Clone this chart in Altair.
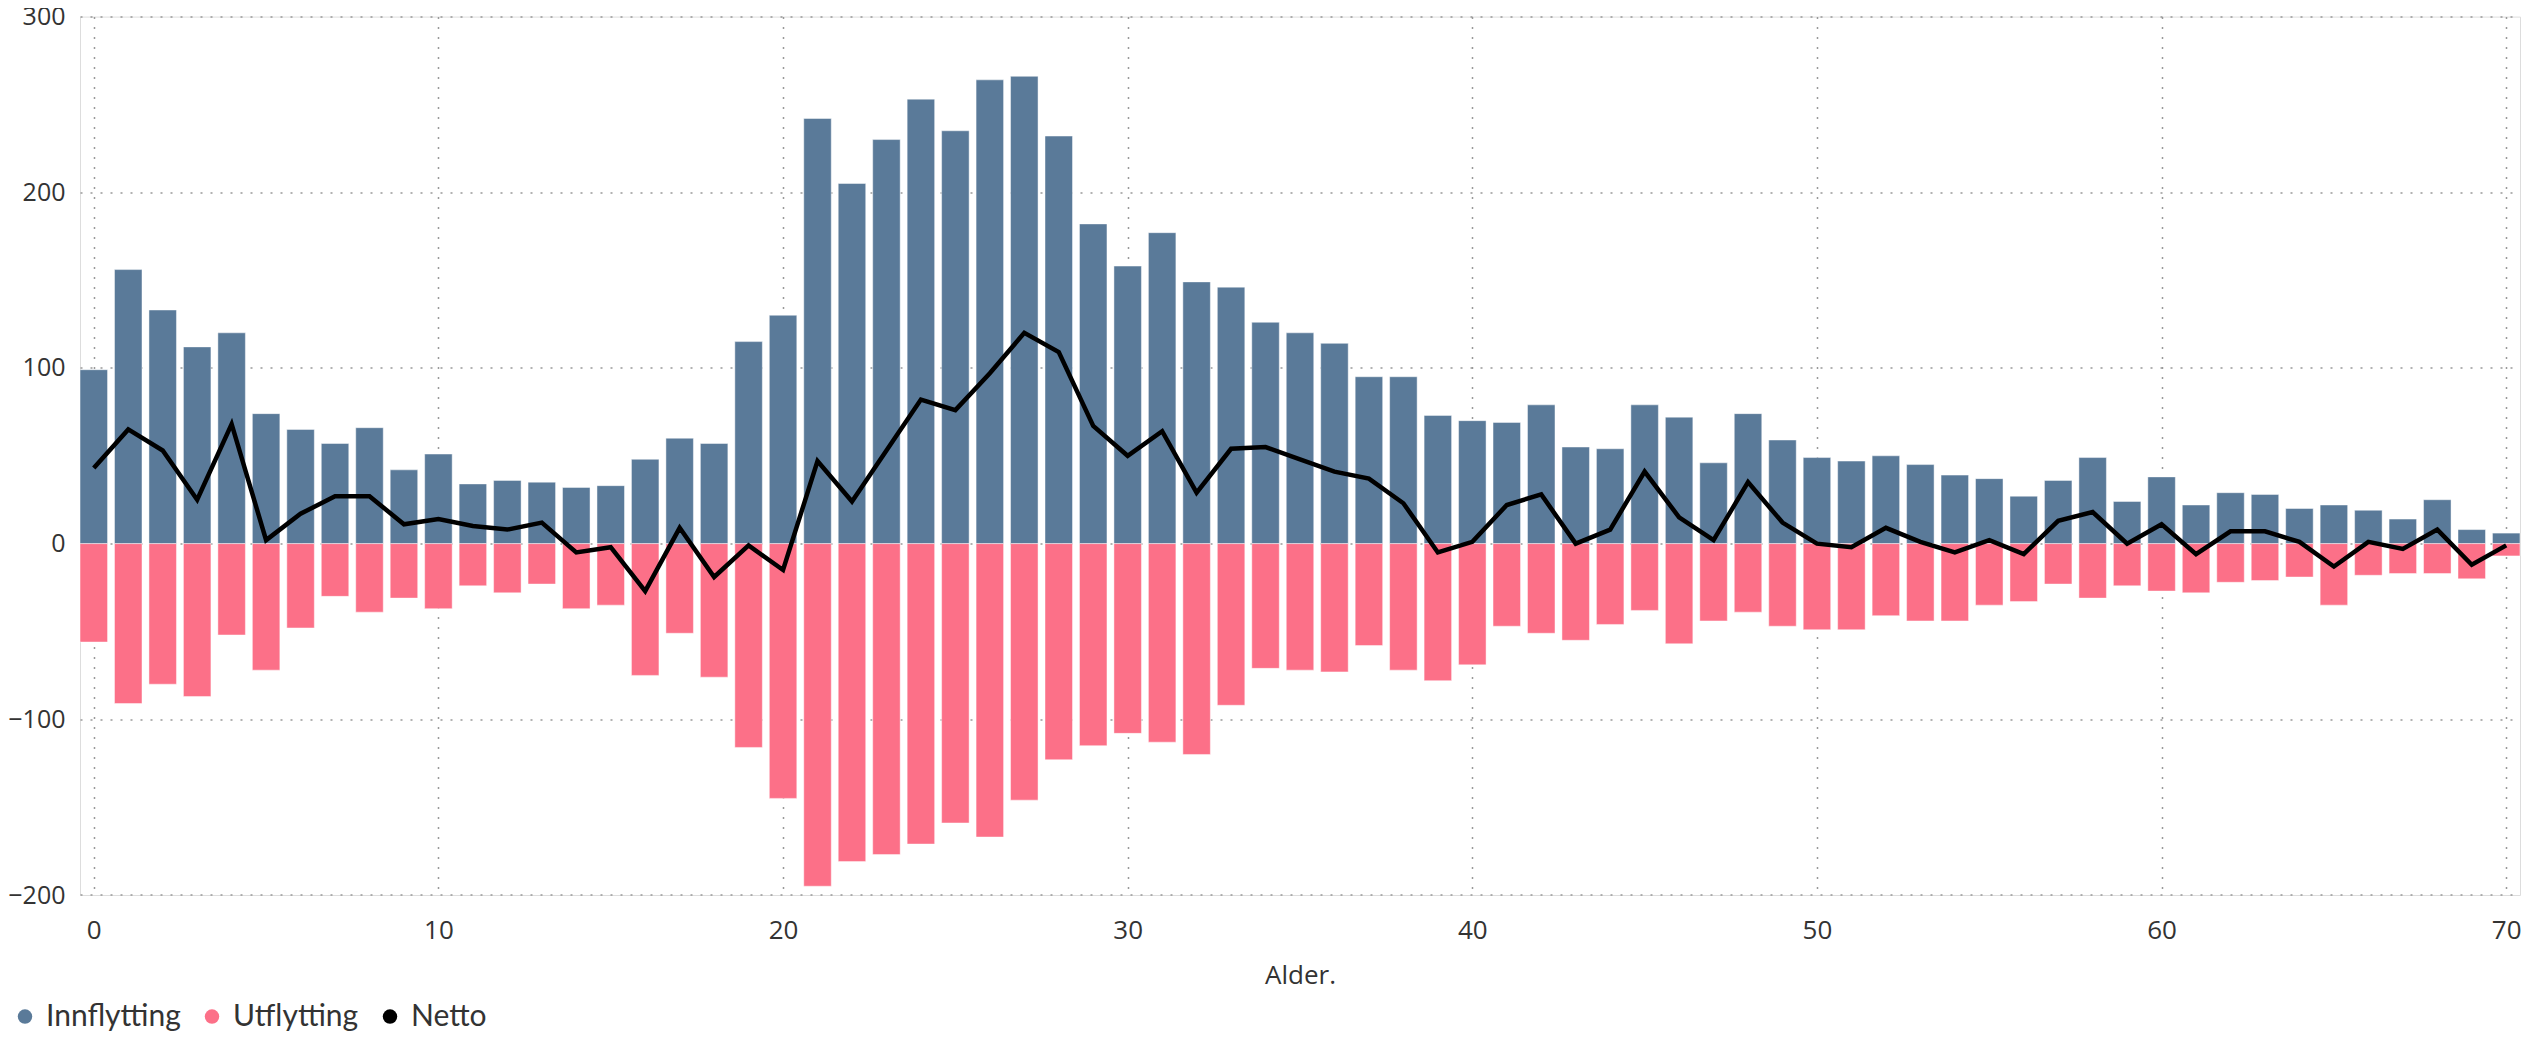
import altair as alt
import pandas as pd

ages = list(range(0, 71))
innflytting = [99, 156, 133, 112, 120, 74, 65, 57, 66, 42,
               51, 34, 36, 35, 32, 33, 48, 60, 57, 115,
               130, 242, 205, 230, 253, 235, 264, 266, 232, 182,
               158, 177, 149, 146, 126, 120, 114, 95, 95, 73,
               70, 69, 79, 55, 54, 79, 72, 46, 74, 59,
               49, 47, 50, 45, 39, 37, 27, 36, 49, 24,
               38, 22, 29, 28, 20, 22, 19, 14, 25, 8,
               6]
utflytting = [-56, -91, -80, -87, -52, -72, -48, -30, -39, -31,
              -37, -24, -28, -23, -37, -35, -75, -51, -76, -116,
              -145, -195, -181, -177, -171, -159, -167, -146, -123, -115,
              -108, -113, -120, -92, -71, -72, -73, -58, -72, -78,
              -69, -47, -51, -55, -46, -38, -57, -44, -39, -47,
              -49, -49, -41, -44, -44, -35, -33, -23, -31, -24,
              -27, -28, -22, -21, -19, -35, -18, -17, -17, -20,
              -7]
netto = [43, 65, 53, 25, 68, 2, 17, 27, 27, 11,
         14, 10, 8, 12, -5, -2, -27, 9, -19, -1,
         -15, 47, 24, 53, 82, 76, 97, 120, 109, 67,
         50, 64, 29, 54, 55, 48, 41, 37, 23, -5,
         1, 22, 28, 0, 8, 41, 15, 2, 35, 12,
         0, -2, 9, 1, -5, 2, -6, 13, 18, 0,
         11, -6, 7, 7, 1, -13, 1, -3, 8, -12,
         -1]
series_names = ["Innflytting", "Utflytting", "Netto"]
series_colors = ["#5a7a99", "#fc7088", "#000000"]
x_ticks = [0, 10, 20, 30, 40, 50, 60, 70]
y_ticks = [-200, -100, 0, 100, 200, 300]

bars = pd.DataFrame({
    "Alder": ages + ages,
    "Verdi": innflytting + utflytting,
    "Serie": [series_names[0]] * len(ages) + [series_names[1]] * len(ages),
})
line = pd.DataFrame({"Alder": ages, "Netto": netto})

axis_font = "Open Sans"
x_scale = alt.Scale(domain=[-0.4, 70.4], nice=False, zero=False, padding=0)
y_scale = alt.Scale(domain=[-200, 300], nice=False, padding=0)

x_axis = alt.Axis(
    title="Alder.", values=x_ticks, format="d", grid=True, ticks=False, tickSize=0,
    domain=False, labelFont=axis_font, labelFontSize=26, labelColor="#333333",
    labelBaseline="alphabetic", labelPadding=43,
    titleFont=axis_font, titleFontSize=26, titleFontWeight="normal", titleColor="#333333",
    titleBaseline="alphabetic", titleY=88,
    gridColor="#999999", gridDash=[2, 8], gridWidth=1.5,
)
y_axis = alt.Axis(
    title=None, values=y_ticks, grid=True, ticks=False, tickSize=0, domain=False,
    labelFont=axis_font, labelFontSize=25, labelColor="#333333", labelPadding=15,
    gridColor="#999999", gridDash=[2, 8], gridWidth=1.5,
)

bar_layer = alt.Chart(bars).mark_bar(
    width=27.5, stroke="#ffffff", strokeWidth=1, strokeOpacity=0.45
).encode(
    x=alt.X("Alder:Q", scale=x_scale, axis=x_axis),
    y=alt.Y("Verdi:Q", scale=y_scale, axis=y_axis, stack=None),
    color=alt.Color(
        "Serie:N",
        scale=alt.Scale(domain=series_names, range=series_colors),
        legend=alt.Legend(
            title=None, orient="none", legendX=-70, legendY=985, direction="horizontal",
            symbolType="circle", symbolSize=210, symbolStrokeWidth=0,
            labelFont="Lato", labelFontSize=30, labelColor="#333333",
            labelOffset=6, columnPadding=16,
        ),
    ),
)

line_layer = alt.Chart(line).mark_line(
    color="#000000", strokeWidth=4.5, strokeJoin="miter"
).encode(
    x=alt.X("Alder:Q", scale=x_scale),
    y=alt.Y("Netto:Q", scale=y_scale),
)

chart = alt.layer(bar_layer, line_layer).properties(
    width=2440, height=878.4,
    padding={"left": 72, "top": 8.6, "right": 4, "bottom": 139},
    autosize=alt.AutoSizeParams(type="none"),
).configure_view(stroke=None).configure(background="#ffffff")

chart.save("out.html", embed_options={"renderer": "svg", "actions": False})
